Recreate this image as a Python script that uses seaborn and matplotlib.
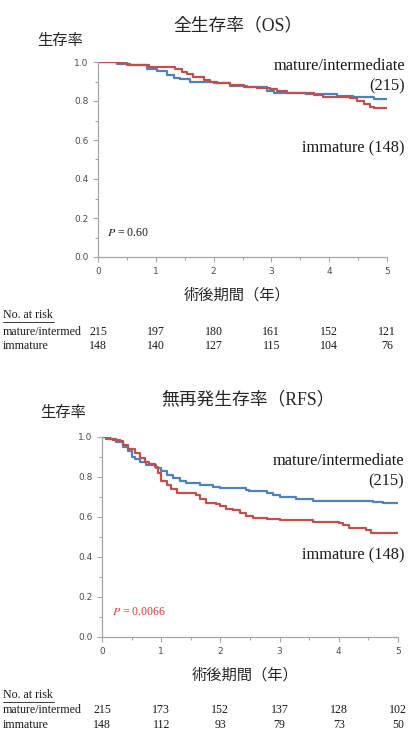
import pandas as pd
import numpy as np
import matplotlib
matplotlib.use("Agg")
import matplotlib.pyplot as plt
import matplotlib.transforms as mtransforms
from matplotlib.lines import Line2D
from matplotlib.ticker import MultipleLocator
import seaborn as sns

# --- data ---
# Overall survival (OS)
os_mature_t = [0, 0.33, 0.56, 0.85, 1.02, 1.19, 1.31, 1.42, 1.6, 2.0, 2.29, 2.58, 2.92, 3.04, 3.6, 4.14, 4.42, 4.77, 5.0]
os_mature_s = [1.0, 0.99, 0.983, 0.964, 0.952, 0.935, 0.92, 0.913, 0.90, 0.892, 0.879, 0.87, 0.85, 0.842, 0.837, 0.825, 0.82, 0.81, 0.81]
os_immature_t = [0, 0.33, 0.5, 0.88, 1.34, 1.45, 1.54, 1.65, 1.83, 1.94, 2.06, 2.29, 2.52, 2.75, 2.98, 3.1, 3.27, 3.73, 3.9, 4.36, 4.48, 4.6, 4.71, 4.77, 5.0]
os_immature_s = [1.0, 0.995, 0.986, 0.975, 0.965, 0.95, 0.94, 0.925, 0.91, 0.90, 0.89, 0.88, 0.87, 0.865, 0.86, 0.85, 0.84, 0.83, 0.82, 0.815, 0.80, 0.785, 0.77, 0.765, 0.765]

# Relapse-free survival (RFS)
rfs_mature_t = [0, 0.13, 0.24, 0.35, 0.44, 0.5, 0.55, 0.64, 0.75, 0.92, 1.0, 1.09, 1.2, 1.31, 1.42, 1.65, 1.88, 1.99, 2.44, 2.49, 2.78, 2.89, 3.0, 3.28, 3.56, 3.79, 4.58, 4.75, 5.0]
rfs_mature_s = [1.0, 0.99, 0.975, 0.95, 0.93, 0.90, 0.89, 0.875, 0.86, 0.845, 0.83, 0.81, 0.795, 0.78, 0.77, 0.76, 0.75, 0.745, 0.735, 0.73, 0.72, 0.71, 0.70, 0.69, 0.68, 0.68, 0.675, 0.67, 0.67]
rfs_immature_t = [0, 0.07, 0.18, 0.3, 0.35, 0.44, 0.55, 0.64, 0.72, 0.8, 0.89, 0.95, 1.0, 1.09, 1.17, 1.26, 1.59, 1.65, 1.76, 1.93, 1.99, 2.1, 2.21, 2.33, 2.44, 2.55, 2.78, 3.0, 3.56, 4.01, 4.07, 4.18, 4.46, 4.55, 5.0]
rfs_immature_s = [1.0, 0.99, 0.985, 0.98, 0.96, 0.94, 0.92, 0.895, 0.875, 0.865, 0.85, 0.82, 0.78, 0.76, 0.74, 0.72, 0.71, 0.69, 0.67, 0.665, 0.655, 0.64, 0.635, 0.62, 0.605, 0.595, 0.59, 0.585, 0.575, 0.57, 0.56, 0.545, 0.535, 0.52, 0.52]

risk_years = [0, 1, 2, 3, 4, 5]
os_risk_mature = [215, 197, 180, 161, 152, 121]
os_risk_immature = [148, 140, 127, 115, 104, 76]
rfs_risk_mature = [215, 173, 152, 137, 128, 102]
rfs_risk_immature = [148, 112, 93, 79, 73, 50]

BLUE = "#4f81bd"
RED = "#c0504d"
GRAY = "#595959"
MIX = ["Liberation Serif", "Noto Sans CJK JP"]
CJK = ["Noto Sans CJK JP", "DejaVu Sans"]

sns.set_style("ticks")
plt.rcParams["font.family"] = ["DejaVu Sans", "Noto Sans CJK JP"]

fig = plt.figure(figsize=(4.18, 7.44), dpi=100)
W, H = 418.0, 744.0


def fx(px):
    return px / W


def fy(py):
    return 1 - py / H


def km_panel(rect, mt, ms, it, is_, title, title_xy, ylab_xy, xlab_xy,
             lab_y, lab_right, p_text, p_xy, p_color, risk_m, risk_i, risk_y):
    ax = fig.add_axes(rect)
    df = pd.concat([
        pd.DataFrame({"time": mt, "surv": ms, "group": "mature"}),
        pd.DataFrame({"time": it, "surv": is_, "group": "immature"}),
    ])
    sns.lineplot(data=df, x="time", y="surv", hue="group", estimator=None,
                 sort=False, drawstyle="steps-post", linewidth=1.6,
                 palette={"mature": BLUE, "immature": RED}, legend=False, ax=ax)
    ax.set_xlim(0, 5)
    ax.set_ylim(0, 1.0)
    ax.set_xlabel("")
    ax.set_ylabel("")
    ax.xaxis.set_major_locator(MultipleLocator(1))
    ax.xaxis.set_minor_locator(MultipleLocator(0.5))
    ax.yaxis.set_major_locator(MultipleLocator(0.2))
    ax.yaxis.set_minor_locator(MultipleLocator(0.1))
    ax.set_yticklabels([f"{v:.1f}" for v in ax.get_yticks()])
    ax.tick_params(which="both", colors="#a6a6a6", labelcolor="#4d4d4d", labelsize=6.5, width=0.8)
    ax.tick_params(which="major", length=3.5)
    ax.tick_params(which="minor", length=2)
    for s in ["left", "bottom"]:
        ax.spines[s].set_color("#a6a6a6")
        ax.spines[s].set_linewidth(0.9)
    sns.despine(ax=ax)

    fig.text(fx(title_xy[0]), fy(title_xy[1]), title, ha="center", va="center",
             fontsize=12.8, family=MIX, color="#262626")
    fig.text(fx(ylab_xy[0]), fy(ylab_xy[1]), "生存率", ha="left", va="center",
             fontsize=11, family=CJK, color="#262626")
    fig.text(fx(xlab_xy[0]), fy(xlab_xy[1]), "術後期間（年）", ha="center", va="center",
             fontsize=11, family=CJK, color="#262626")
    fig.text(fx(lab_right), fy(lab_y[0]), "mature/intermediate", ha="right", va="center",
             fontsize=11.8, family="Liberation Serif", color="#1a1a1a")
    fig.text(fx(lab_right), fy(lab_y[1]), "(215)", ha="right", va="center",
             fontsize=11.8, family="Liberation Serif", color="#1a1a1a")
    fig.text(fx(lab_right), fy(lab_y[2]), "immature (148)", ha="right", va="center",
             fontsize=11.8, family="Liberation Serif", color="#1a1a1a")
    fig.text(fx(p_xy[0]), fy(p_xy[1]), r"$\it{P}$ = " + p_text, ha="left", va="center",
             fontsize=8.6, family="Liberation Serif", color=p_color,
             math_fontfamily="stix")

    # number-at-risk table
    fs = 8.6
    fig.text(fx(3), fy(risk_y[0]), "No. at risk", ha="left", va="center",
             fontsize=fs, family="Liberation Serif", color="#1a1a1a")
    fig.add_artist(Line2D([fx(3), fx(54)], [fy(risk_y[0] + 6.5)] * 2,
                          color="#1a1a1a", linewidth=0.6))
    fig.text(fx(3), fy(risk_y[1]), "mature/intermed", ha="left", va="center",
             fontsize=fs, family="Liberation Serif", color="#1a1a1a")
    fig.text(fx(3), fy(risk_y[2]), "immature", ha="left", va="center",
             fontsize=fs, family="Liberation Serif", color="#1a1a1a")
    trans = mtransforms.blended_transform_factory(ax.transData, fig.transFigure)
    for yr, m, i in zip(risk_years, risk_m, risk_i):
        fig.text(yr, fy(risk_y[1]), str(m), ha="center", va="center", transform=trans,
                 fontsize=fs, family="Liberation Serif", color="#1a1a1a")
        fig.text(yr, fy(risk_y[2]), str(i), ha="center", va="center", transform=trans,
                 fontsize=fs, family="Liberation Serif", color="#1a1a1a")
    return ax


km_panel([fx(98), fy(257), fx(387 - 98), (257 - 62) / H],
         os_mature_t, os_mature_s, os_immature_t, os_immature_s,
         "全生存率（OS）", (238, 26), (37, 40), (237, 295),
         (66, 86, 148), 405, "0.60", (107, 233), "#1a1a1a",
         os_risk_mature, os_risk_immature, (315, 332, 346))

km_panel([fx(102), fy(637), fx(398 - 102), (637 - 437) / H],
         rfs_mature_t, rfs_mature_s, rfs_immature_t, rfs_immature_s,
         "無再発生存率（RFS）", (248, 400), (40, 413), (245, 675),
         (461, 481, 555), 404, "0.0066", (112, 612), "#e03c3c",
         rfs_risk_mature, rfs_risk_immature, (695, 710, 725))

fig.savefig("out.png", dpi=100)
